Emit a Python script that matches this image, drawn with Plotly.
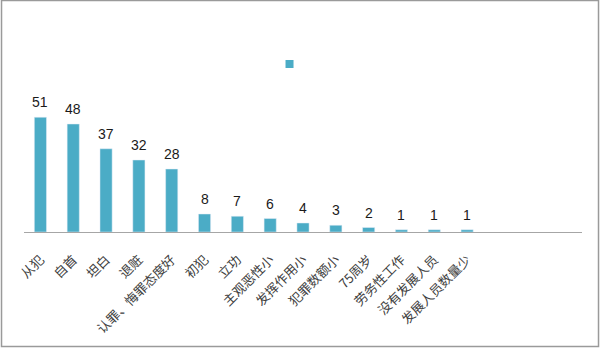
import plotly.graph_objects as go

categories = ["从犯", "自首", "坦白", "退赃", "认罪、悔罪态度好", "初犯", "立功",
              "主观恶性小", "发挥作用小", "犯罪数额小", "75周岁", "劳务性工作",
              "没有发展人员", "发展人员数量少"]
values = [51, 48, 37, 32, 28, 8, 7, 6, 4, 3, 2, 1, 1, 1]
empty_slots = ["  ", "   ", "    "]  # trailing empty categories on the axis

bar_color = "#4BACC6"
all_cats = categories + empty_slots

fig = go.Figure()
fig.add_trace(go.Bar(
    x=categories, y=values, marker_color=bar_color, width=0.37,
    name=" ", showlegend=False,
))
# legend proxy (series has no name)
fig.add_trace(go.Scatter(
    x=[None], y=[None], mode="markers",
    marker=dict(symbol="square", size=8, color=bar_color),
    name="", showlegend=True,
))
for c, v in zip(categories, values):
    fig.add_annotation(x=c, y=v, text=str(v), showarrow=False, yanchor="bottom",
                       yshift=5, font=dict(family="Liberation Sans, Arial", size=14, color="#1a1a1a"))

fig.add_shape(type="rect", xref="paper", yref="paper",
              x0=-0.0403, x1=1.0296, y0=-0.848, y1=1.7148,
              line=dict(color="#9a9a9a", width=1.5), fillcolor="rgba(0,0,0,0)")

fig.update_layout(
    width=600, height=352,
    margin=dict(l=24, r=18, t=97, b=120),
    plot_bgcolor="white", paper_bgcolor="white",
    bargap=0.63,
    legend=dict(x=0.44, y=1.245, xanchor="left", yanchor="middle",
                font=dict(size=10), itemsizing="trace", bgcolor="rgba(0,0,0,0)"),
    xaxis=dict(type="category", categoryorder="array", categoryarray=all_cats,
               range=[-0.5, len(all_cats) - 0.5], tickangle=-45,
               showline=True, linecolor="#a6a6a6", linewidth=1, ticks="",
               ticklabelstandoff=14,
               showgrid=False, zeroline=False,
               tickfont=dict(family="Noto Sans CJK SC", size=13, color="#404040")),
    yaxis=dict(range=[0, 60], visible=False, showgrid=False, zeroline=False),
)
fig.write_html("out.html")
